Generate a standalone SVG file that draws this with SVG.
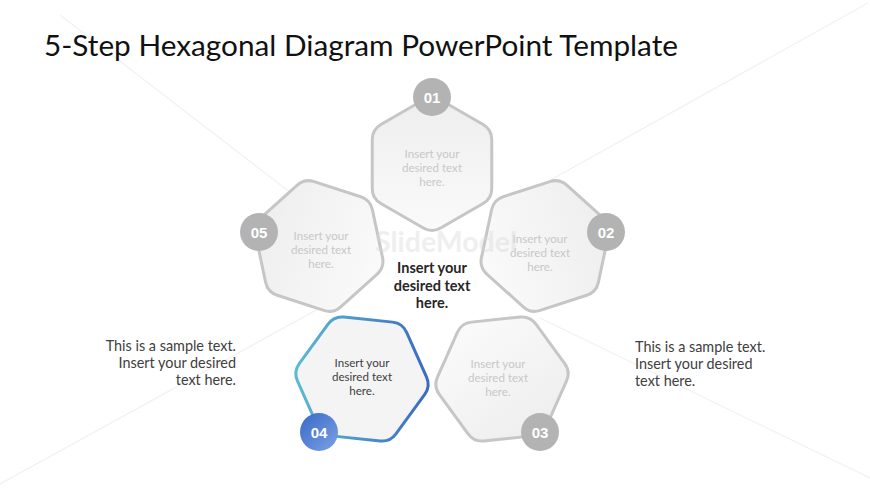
<svg xmlns="http://www.w3.org/2000/svg" width="870" height="489" viewBox="0 0 870 489">
<style>
.hex{fill:url(#hexFill);stroke:#c6c6c6;stroke-width:3;stroke-linejoin:round}
.ht{font-family:Lato,"Open Sans",sans-serif;font-size:11.6px;fill:#c8c8c8;text-anchor:middle}
.ht4{fill:#3f3f3f}
.badge{fill:#b3b3b3}
.bt{font-family:"Liberation Sans",Arial,sans-serif;font-size:15px;font-weight:bold;fill:#ffffff;text-anchor:middle}
.side{font-family:Lato,"Open Sans",sans-serif;font-size:14.4px;fill:#404040}
.ray{stroke:#f1f1f1;stroke-width:1.2;fill:none}
</style>
<defs>
<linearGradient id="hexFill" x1="0" y1="0" x2="0" y2="1">
<stop offset="0" stop-color="#eeeeee"/>
<stop offset="1" stop-color="#fafafa"/>
</linearGradient>
<linearGradient id="hex4Stroke" gradientUnits="userSpaceOnUse" x1="56.6" y1="-41.2" x2="-56.6" y2="41.2">
<stop offset="0" stop-color="#5cbdd0"/>
<stop offset="1" stop-color="#3a68c2"/>
</linearGradient>
<linearGradient id="badge4" x1="0" y1="0" x2="1" y2="1">
<stop offset="0" stop-color="#3a68c8"/>
<stop offset="1" stop-color="#7aa2e3"/>
</linearGradient>
<path id="hexShape" d="M8.66,-64 L51.1,-39.5 Q59.76,-34.5 59.76,-24.5 L59.76,24.5 Q59.76,34.5 51.1,39.5 L8.66,64 Q0,69 -8.66,64 L-51.1,39.5 Q-59.76,34.5 -59.76,24.5 L-59.76,-24.5 Q-59.76,-34.5 -51.1,-39.5 L-8.66,-64 Q0,-69 8.66,-64 Z"/>
</defs>
<rect x="0" y="0" width="870" height="489" fill="#ffffff"/>

<g id="background-rays">
<line class="ray" x1="60" y1="15" x2="300" y2="200"/>
<line class="ray" x1="547" y1="182" x2="868" y2="3"/>
<line class="ray" x1="0" y1="484" x2="340" y2="297"/>
<line class="ray" x1="540" y1="318" x2="870" y2="478"/>
</g>

<text id="title" x="44" y="56" font-family="Lato,'Open Sans',sans-serif" font-size="28" fill="#111111" textLength="634" lengthAdjust="spacingAndGlyphs">5-Step Hexagonal Diagram PowerPoint Template</text>

<g id="connectors"></g>

<g id="hex-01">
<use href="#hexShape" class="hex" transform="translate(432,164)"/>
<text class="ht" x="432" y="158">Insert your</text>
<text class="ht" x="432" y="172">desired text</text>
<text class="ht" x="432" y="186">here.</text>
</g>
<g id="hex-02">
<use href="#hexShape" class="hex" transform="translate(545,246) rotate(72)"/>
<text class="ht" x="540" y="243">Insert your</text>
<text class="ht" x="540" y="257">desired text</text>
<text class="ht" x="540" y="271">here.</text>
</g>
<g id="hex-03">
<use href="#hexShape" class="hex" transform="translate(502,379) rotate(144)"/>
<text class="ht" x="498" y="368">Insert your</text>
<text class="ht" x="498" y="382">desired text</text>
<text class="ht" x="498" y="396">here.</text>
</g>
<g id="hex-04">
<use href="#hexShape" class="hex" style="stroke:url(#hex4Stroke);fill:#f4f4f4" transform="translate(362,379) rotate(216)"/>
<text class="ht ht4" x="362" y="367">Insert your</text>
<text class="ht ht4" x="362" y="381">desired text</text>
<text class="ht ht4" x="362" y="395">here.</text>
</g>
<g id="hex-05">
<use href="#hexShape" class="hex" transform="translate(319,246) rotate(288)"/>
<text class="ht" x="321" y="240">Insert your</text>
<text class="ht" x="321" y="254">desired text</text>
<text class="ht" x="321" y="268">here.</text>
</g>

<g id="badge-01"><circle class="badge" cx="432" cy="97" r="19"/><text class="bt" x="432" y="102.5">01</text></g>
<g id="badge-02"><circle class="badge" cx="606" cy="232" r="19"/><text class="bt" x="606" y="237.5">02</text></g>
<g id="badge-03"><circle class="badge" cx="540" cy="432" r="19"/><text class="bt" x="540" y="437.5">03</text></g>
<g id="badge-04"><circle cx="319" cy="432" r="19" fill="url(#badge4)"/><text class="bt" x="319" y="437.5">04</text></g>
<g id="badge-05"><circle class="badge" cx="259" cy="232" r="19"/><text class="bt" x="259" y="237.5">05</text></g>

<text id="watermark" x="375" y="252" font-family="Lato,sans-serif" font-size="28" font-weight="bold" fill="#d8d8d8" opacity="0.4" textLength="142" lengthAdjust="spacingAndGlyphs">SlideModel</text>

<g id="center-text" font-family="Lato,'Open Sans',sans-serif" font-size="14.5px" font-weight="bold" fill="#262626" text-anchor="middle">
<text x="432" y="273">Insert your</text>
<text x="432" y="291">desired text</text>
<text x="432" y="308">here.</text>
</g>

<g id="left-text">
<text class="side" x="236" y="351" text-anchor="end">This is a sample text.</text>
<text class="side" x="236" y="368" text-anchor="end">Insert your desired</text>
<text class="side" x="236" y="385" text-anchor="end">text here.</text>
</g>
<g id="right-text">
<text class="side" x="635" y="352">This is a sample text.</text>
<text class="side" x="635" y="369">Insert your desired</text>
<text class="side" x="635" y="386">text here.</text>
</g>
</svg>
